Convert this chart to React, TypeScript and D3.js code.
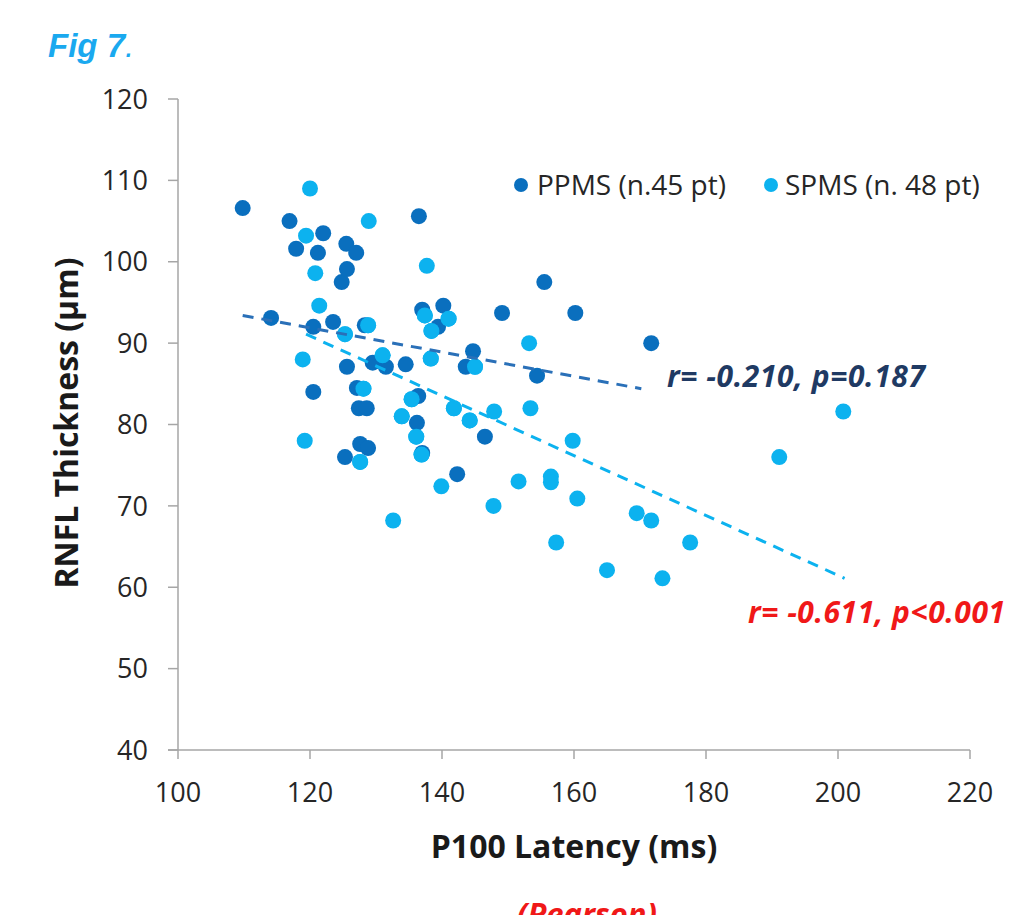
import { useEffect } from "react";
import * as d3 from "d3";

// P100 latency (ms) vs RNFL thickness (um)
const ppmsLatency = [109.8, 114.1, 116.9, 117.9, 120.5, 120.5, 121.2, 122, 123.5, 124.8, 125.6, 125.5, 125.6, 125.3, 127, 127.1, 127.4, 128.6, 127.6, 128.8, 129.5, 131.5, 134.5, 136.5, 137, 136.2, 136.4, 137, 140.2, 139.4, 142.3, 143.6, 144.7, 146.5, 149.1, 154.4, 155.5, 160.2, 171.7, 128.3];
const ppmsRnfl = [106.6, 93.1, 105, 101.6, 92, 84, 101.1, 103.5, 92.6, 97.5, 99.1, 102.2, 87.1, 76, 101.1, 84.5, 82, 82, 77.6, 77.1, 87.6, 87.1, 87.4, 105.6, 94.1, 80.2, 83.5, 76.5, 94.6, 92, 73.9, 87.1, 89, 78.5, 93.7, 86, 97.5, 93.7, 90, 92.2];

const spmsLatency = [120, 128.9, 119.4, 120.8, 121.4, 128.8, 125.3, 118.9, 131, 128.1, 133.9, 135.4, 136.1, 119.2, 127.6, 137.7, 137.4, 141, 138.4, 153.2, 138.3, 145, 141.8, 144.2, 147.9, 153.4, 136.9, 159.8, 139.9, 132.6, 151.6, 156.5, 156.5, 160.5, 147.8, 157.3, 165, 169.5, 171.7, 177.6, 173.4, 191.1, 200.8];
const spmsRnfl = [109, 105, 103.2, 98.6, 94.6, 92.2, 91.1, 88, 88.5, 84.4, 81, 83.1, 78.5, 78, 75.4, 99.5, 93.4, 93, 91.5, 90, 88.1, 87.1, 82, 80.5, 81.6, 82, 76.3, 78, 72.4, 68.2, 73, 73.6, 72.9, 70.9, 70, 65.5, 62.1, 69.1, 68.2, 65.5, 61.1, 76, 81.6];

// linear trend endpoints [latency, rnfl]
const ppmsTrend: [number, number][] = [[109.8, 93.4], [170.2, 84.4]];
const spmsTrend: [number, number][] = [[119.4, 91.1], [201, 61.1]];

const xTicks = [100, 120, 140, 160, 180, 200, 220];
const yTicks = [40, 50, 60, 70, 80, 90, 100, 110, 120];

const DARK = "#0a6fbe";
const LIGHT = "#0cb2ef";
const FONT = "'Open Sans', 'DejaVu Sans', sans-serif";

export default function App() {
  useEffect(() => {
    document.body.style.margin = "0"; // picture fills the window
  }, []);

  const x = d3.scaleLinear().domain([100, 220]).range([178, 970]);
  const y = d3.scaleLinear().domain([40, 120]).range([750, 99]);
  const line = d3.line<[number, number]>().x((d) => x(d[0])).y((d) => y(d[1]));

  const ppms = ppmsLatency.map((v, i) => [v, ppmsRnfl[i]]);
  const spms = spmsLatency.map((v, i) => [v, spmsRnfl[i]]);

  return (
    <svg width={1024} height={915} style={{ display: "block", background: "#fff" }} fontFamily={FONT}>
      <text x={48} y={57} fill="#1aa9ef" fontSize={33} fontWeight="bold" fontStyle="italic" fontFamily="'Liberation Sans', Arial, sans-serif">
        Fig 7<tspan fontWeight="normal">.</tspan>
      </text>

      {/* axes */}
      <line x1={x(100)} x2={x(100)} y1={y(120)} y2={y(40)} stroke="#a6a6a6" strokeWidth={1.5} />
      <line x1={x(100) - 10} x2={x(220)} y1={y(40)} y2={y(40)} stroke="#a6a6a6" strokeWidth={1.5} />
      {yTicks.map((t) => (
        <g key={"y" + t}>
          <line x1={x(100) - 10} x2={x(100)} y1={y(t)} y2={y(t)} stroke="#a6a6a6" strokeWidth={1.5} />
          <text x={148} y={y(t)} dy="0.36em" textAnchor="end" fontSize={27} fill="#262626">{t}</text>
        </g>
      ))}
      {xTicks.map((t) => (
        <g key={"x" + t}>
          <line x1={x(t)} x2={x(t)} y1={y(40)} y2={y(40) + 9} stroke="#a6a6a6" strokeWidth={1.5} />
          <text x={x(t)} y={802} textAnchor="middle" fontSize={27} fill="#262626">{t}</text>
        </g>
      ))}

      <text transform="translate(78,423) rotate(-90)" textAnchor="middle" fontSize={32} fontWeight="bold" fill="#1a1a1a">
        RNFL Thickness (μm)
      </text>
      <text x={574} y={858} textAnchor="middle" fontSize={32} fontWeight="bold" fill="#1a1a1a">
        P100 Latency (ms)
      </text>

      {/* points */}
      {spms.map((d, i) => (
        <circle key={"s" + i} cx={x(d[0])} cy={y(d[1])} r={8} fill={LIGHT} />
      ))}
      {ppms.map((d, i) => (
        <circle key={"p" + i} cx={x(d[0])} cy={y(d[1])} r={8} fill={DARK} />
      ))}
      {/* a few light points sit on top of dark ones in the original */}
      {spms.filter((d) => d[0] > 125 && d[0] < 146 && d[1] > 75 && d[1] < 95).map((d, i) => (
        <circle key={"t" + i} cx={x(d[0])} cy={y(d[1])} r={8} fill={LIGHT} />
      ))}

      {/* trend lines */}
      <path d={line(ppmsTrend) ?? ""} fill="none" stroke="#2a70b8" strokeWidth={3} strokeDasharray="11 8" />
      <path d={line(spmsTrend) ?? ""} fill="none" stroke={LIGHT} strokeWidth={3} strokeDasharray="11 8" />

      <text x={667} y={387} fontSize={30} fontWeight="bold" fontStyle="italic" fill="#1f3a63" textLength={258}>
        r= -0.210, p=0.187
      </text>
      <text x={748} y={623} fontSize={30} fontWeight="bold" fontStyle="italic" fill="#f01818" textLength={257}>
        r= -0.611, p&lt;0.001
      </text>

      {/* legend */}
      <circle cx={521} cy={185} r={7} fill={DARK} />
      <text x={537} y={195} fontSize={28} fill="#262626">PPMS (n.45 pt)</text>
      <circle cx={771} cy={185} r={7} fill={LIGHT} />
      <text x={785} y={195} fontSize={28} fill="#262626">SPMS (n. 48 pt)</text>

      <text x={587} y={925} textAnchor="middle" fontSize={31} fontWeight="bold" fontStyle="italic" fill="#f01818">
        (Pearson)
      </text>
    </svg>
  );
}
